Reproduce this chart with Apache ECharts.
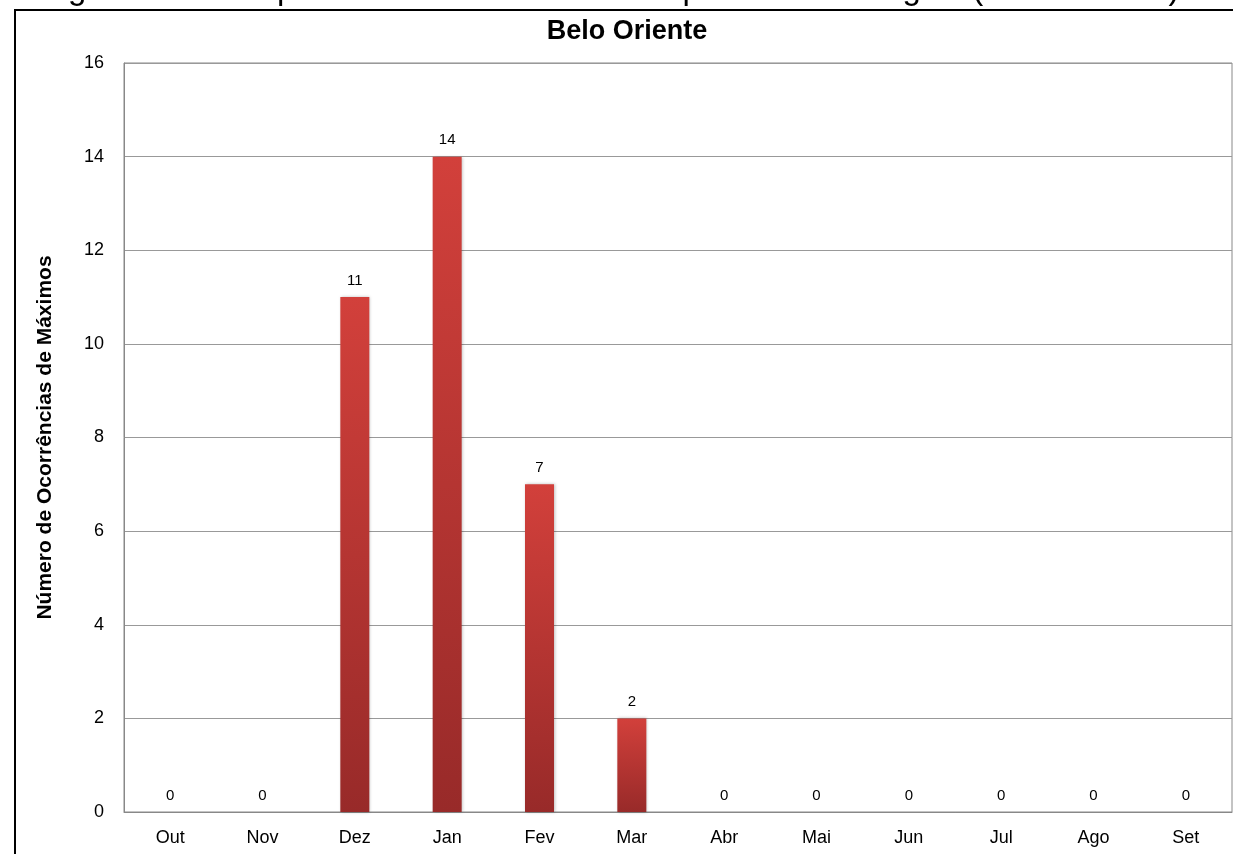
<!DOCTYPE html>
<html>
<head>
<meta charset="utf-8">
<script src="https://cdn.jsdelivr.net/npm/echarts@6/dist/echarts.min.js"></script>
<style>
html,body{margin:0;padding:0;background:#fff;}
#c{width:1233px;height:854px;}
</style>
</head>
<body>
<div id="c"></div>
<script>
const categories = ['Out','Nov','Dez','Jan','Fev','Mar','Abr','Mai','Jun','Jul','Ago','Set'];
const values = [0,0,11,14,7,2,0,0,0,0,0,0];
const yTicks = [0,2,4,6,8,10,12,14,16];
const titleText = 'Belo Oriente';
const yAxisName = 'Número de Ocorrências de Máximos';
const captionText = 'Figura 30 – Frequência de cheias máximas por ano hidrológico (de Out a Set)';

const chart = echarts.init(document.getElementById('c'));
chart.setOption({
  animation: false,
  backgroundColor: '#fff',
  title: {
    text: titleText,
    left: 622, top: 13, textAlign: 'center',
    textStyle: {fontFamily: 'Liberation Sans, Arial', fontWeight: 'bold', fontSize: 27, color: '#000'}
  },
  graphic: [
    {type: 'text', z: 5, style: {x: 610, y: 6, text: captionText, align: 'center', verticalAlign: 'bottom', font: '33px "Liberation Sans", Arial', fill: '#000'}},
    {type: 'rect', z: 10, shape: {x: 15, y: 10, width: 1240, height: 900}, style: {fill: 'none', stroke: '#000', lineWidth: 2}},
    {type: 'rect', z: 4, shape: {x: 0, y: 11, width: 1233, height: 4}, style: {fill: '#fff'}}
  ],
  grid: {left: 124, right: 1, top: 63, bottom: 42, show: true, borderColor: '#888', borderWidth: 1},
  xAxis: {
    type: 'category', data: categories,
    axisLine: {lineStyle: {color: '#888'}},
    axisTick: {show: false},
    axisLabel: {fontFamily: 'Liberation Sans, Arial', fontSize: 18, color: '#000', margin: 17}
  },
  yAxis: {
    type: 'value', min: 0, max: 16, interval: 2,
    name: yAxisName, nameLocation: 'middle', nameGap: 68,
    nameTextStyle: {fontFamily: 'Liberation Sans, Arial', fontWeight: 'bold', fontSize: 21, color: '#000'},
    axisLine: {show: true, lineStyle: {color: '#888'}},
    axisTick: {show: false},
    splitLine: {lineStyle: {color: '#999', width: 1}},
    axisLabel: {fontFamily: 'Liberation Sans, Arial', fontSize: 18, color: '#000', margin: 20,
      formatter: v => yTicks.includes(v) ? String(v) : ''}
  },
  series: [{
    type: 'bar', data: values, barWidth: 29,
    itemStyle: {
      color: new echarts.graphic.LinearGradient(0,0,0,1,[{offset:0,color:'#d2403b'},{offset:1,color:'#982a29'}]),
      shadowColor: 'rgba(0,0,0,0.25)', shadowBlur: 3, shadowOffsetX: 1
    },
    label: {show: true, position: 'top', distance: 9, fontFamily: 'Liberation Sans, Arial', fontSize: 15, color: '#000'}
  }]
});
</script>
</body>
</html>
